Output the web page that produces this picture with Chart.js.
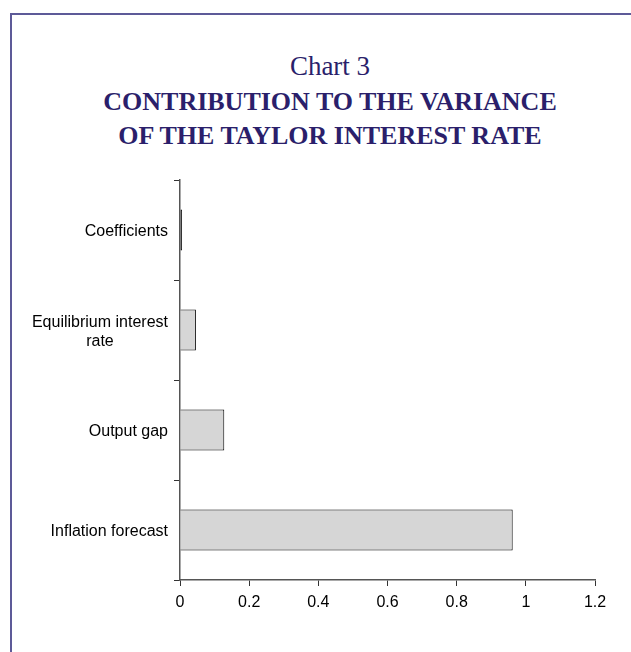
<!DOCTYPE html>
<html lang="en">
<head>
    <meta charset="UTF-8">
    <title>Chart 3</title>
    <script src="https://cdn.jsdelivr.net/npm/chart.js"></script>
    <style>
        body {
            margin: 0;
            background: #fff;
        }
        #frame {
            position: relative;
            width: 631px;
            height: 652px;
            overflow: hidden;
        }
        #frame .edge {
            position: absolute;
            left: 10px;
            top: 13px;
            width: 700px;
            height: 700px;
            border-left: 2px solid #5d5a98;
            border-top: 2px solid #5d5a98;
        }
        .ttl {
            position: absolute;
            left: 10px;
            width: 640px;
            text-align: center;
            font-family: "Liberation Serif", "DejaVu Serif", serif;
            color: #2b1f6b;
            font-size: 26px;
            line-height: 34px;
        }
        canvas {
            position: absolute;
            left: 0;
            top: 160px;
        }
    </style>
</head>
<body>
<div id="frame">
    <div class="edge"></div>
    <div class="ttl" style="top:49px;font-size:27px">Chart 3</div>
    <div class="ttl" style="top:85px;font-weight:bold">CONTRIBUTION TO THE VARIANCE<br>OF THE TAYLOR INTEREST RATE</div>
    <canvas id="barChart" width="631" height="492"></canvas>
</div>
<script>
const categories = ['Coefficients', 'Equilibrium interest|rate', 'Output gap', 'Inflation forecast'];
const contribution = [0.006, 0.046, 0.128, 0.962];
const xTicks = [0, 0.2, 0.4, 0.6, 0.8, 1, 1.2];

const labelFont = '16px "Liberation Sans", Arial, sans-serif';

// draws the category labels: right aligned block, lines centred inside it
const catLabels = {
    id: 'catLabels',
    afterDraw(chart) {
        const ctx = chart.ctx;
        const y = chart.scales.y;
        ctx.save();
        ctx.font = labelFont;
        ctx.fillStyle = '#000';
        ctx.textAlign = 'center';
        ctx.textBaseline = 'middle';
        categories.forEach((lab, i) => {
            const lines = lab.split('|');
            const w = Math.max(...lines.map(l => ctx.measureText(l).width));
            const cx = y.right - 12 - w / 2;
            const cy = y.getPixelForValue(i) + 2;
            const lh = 19;
            lines.forEach((l, k) => {
                ctx.fillText(l, cx, cy + (k - (lines.length - 1) / 2) * lh);
            });
        });
        ctx.restore();
    }
};

new Chart(document.getElementById('barChart').getContext('2d'), {
    type: 'bar',
    data: {
        labels: categories,
        datasets: [{
            data: contribution,
            // the tiny first bar shows as just its black outline
            backgroundColor: ctx => ctx.dataIndex === 0 ? '#000' : '#d6d6d6',
            borderColor: '#000',
            borderWidth: 1,
            barPercentage: 0.41,
            categoryPercentage: 1
        }]
    },
    options: {
        indexAxis: 'y',
        responsive: false,
        animation: false,
        layout: { padding: { left: 0, right: 36, top: 20, bottom: 28 } },
        plugins: {
            legend: { display: false },
            tooltip: { enabled: false }
        },
        scales: {
            x: {
                min: 0,
                max: 1.2,
                afterBuildTicks: s => { s.ticks = xTicks.map(v => ({ value: v })); },
                afterFit: s => { s.height = 44; },
                ticks: {
                    color: '#000',
                    font: { family: '"Liberation Sans", Arial, sans-serif', size: 16 },
                    padding: 7,
                    maxRotation: 0,
                    callback: v => String(v)
                },
                grid: { drawOnChartArea: false, tickLength: 6, color: '#333' },
                border: { color: '#555', width: 1.5 }
            },
            y: {
                afterFit: s => { s.width = 180; },
                ticks: { display: false },
                grid: { drawOnChartArea: false, tickLength: 6, color: '#333', offset: true },
                border: { color: '#555', width: 1.5 }
            }
        }
    },
    plugins: [catLabels]
});
</script>
</body>
</html>
